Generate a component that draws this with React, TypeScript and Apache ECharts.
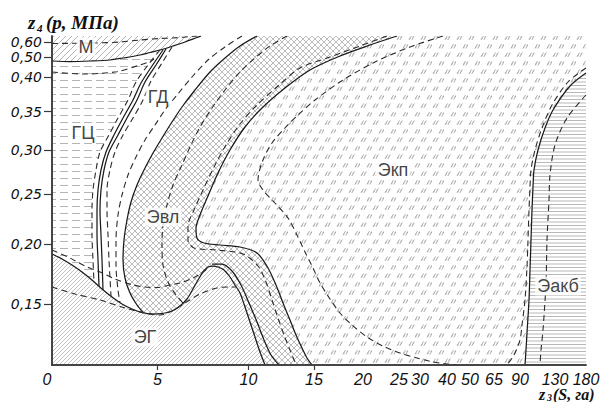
import React, { useEffect, useRef } from 'react';
import * as echarts from 'echarts';

// Nomogram axes: positions of the tick labels along each (non-uniform) scale
const X_MAX = 534;
const Y_MAX = 329;
const xTickLabels = ['0', '5', '10', '15', '20', '25', '30', '40', '50', '65', '90', '130', '180'];
const xTickPos = [0, 105.5, 196.5, 262, 311, 347, 368, 395, 418, 442, 468, 503, 534];
const xTickMarks = [105.5, 196.5, 262];
const yTickLabels = ['0,15', '0,20', '0,25', '0,30', '0,35', '0,40', '0,50', '0,60'];
const yTickPos = [60.7, 121, 171, 215, 253.3, 287.7, 307.7, 322.7];

// Boundary curves (scale positions)
const curveM = [[0, 304], [18, 303.5], [38, 304], [58, 305], [71, 307], [88, 310], [98, 312.5], [110, 315.5], [121, 319], [133, 323], [145, 327.5], [149, 329]];
const curveMDash = [[0, 321.5], [43, 322], [68, 323], [88, 325], [108, 326.5], [121, 327], [145, 329]];
const curveGCDash = [[0, 293], [31, 291], [65, 293.3], [88, 300], [98, 303.5], [102, 306]];
const curveL1 = [[108, 315], [96, 300], [84, 283], [76, 265], [66, 247], [57, 230], [48, 213], [44, 195], [41, 175], [40, 155], [40, 130], [41, 105], [42, 83]];
const curveL2 = [[111, 315], [100, 299], [89, 282], [81, 265], [71, 247], [62, 230], [54, 213], [49, 195], [46, 175], [45, 155], [45, 130], [46, 105], [47, 79]];
const curveL3 = [[114, 316], [104, 300], [93, 283], [85, 265], [75, 247], [66, 230], [57, 213], [52, 195], [49, 175], [48, 155], [49, 130], [50, 105], [51, 75]];
const curveL4 = [[120, 318], [110, 302], [99, 284], [91, 265], [81, 247], [71, 230], [63, 213], [58, 195], [55, 175], [55, 155], [56, 130], [57, 105], [59, 69]];
const curveGDDash = [[190, 329], [173, 318], [156, 305], [140, 288], [125, 270], [113, 255], [103, 240], [93, 225], [84, 208], [76, 190], [70, 170], [66, 150], [64, 125], [64, 100], [66, 75], [68, 62.5]];
const curveA = [[205, 329], [188, 319], [173, 307], [158, 293], [143, 275], [130, 258], [120, 243], [110, 227], [101, 212], [93, 197], [85, 180], [79, 163], [75, 145], [72, 125], [71, 105], [73, 87], [78, 72], [85, 60], [91, 52.5]];
const curveEG = [[0, 111], [10, 106], [20, 100], [30, 93], [40, 85], [50, 76], [60, 68], [70, 61], [80, 56], [90, 52.5], [100, 51], [110, 51.5], [120, 54], [128, 59], [135, 66], [141, 76], [146, 85], [151, 93], [156, 98], [161, 99], [166, 98], [172, 95], [178, 88], [183, 80], [188, 72], [193, 58], [198, 43], [203, 28], [208, 13], [213, 0]];
const curveEGDash1 = [[0, 115], [18, 107], [33, 99], [48, 93], [63, 86], [81, 80], [93, 78], [105, 77.5], [118, 80], [128, 82], [141, 87], [151, 93], [156, 97]];
const curveEGDash2 = [[0, 78], [23, 71], [48, 65], [73, 57], [93, 52], [108, 50], [120, 54], [133, 62], [148, 71], [165, 77], [178, 78], [184, 78]];
const curveB = [[235, 329], [218, 319], [203, 307], [188, 293], [173, 275], [160, 257], [148, 238], [138, 218], [130, 200], [121, 180], [115, 160], [111, 140], [110, 120], [111, 100], [116, 83], [124, 70], [131, 62]];
const curveC = [[335, 329], [308, 319], [278, 308], [248, 297], [226, 279], [204, 259], [188, 241], [174, 220], [162, 198], [151, 175], [142, 155], [136, 139], [136, 125], [142, 117], [165, 115], [191, 111], [206, 99], [214, 83], [220, 65], [226, 47], [232, 30], [238, 15], [243, 3], [245, 0]];
const curveD = [[345, 329], [318, 320], [288, 309], [258, 295], [233, 277], [210, 257], [193, 238], [178, 215], [166, 192], [156, 169], [148, 150], [144, 137], [145, 127], [152, 122], [168, 120], [188, 118], [205, 112], [216, 97], [224, 80], [231, 62], [238, 45], [244, 30], [250, 17], [255, 7], [260, 0]];
const curveX = [[160, 101], [170, 101], [180, 94], [189, 80], [197, 62], [205, 43], [212, 25], [219, 10], [227, 0]];
const curveF = [[391, 329], [358, 318], [323, 303], [291, 285], [263, 265], [246, 250], [233, 237], [220, 222], [211, 205], [206, 185], [211, 175], [223, 162], [236, 147], [245, 130], [253, 113], [261, 97], [268, 82], [278, 66], [288, 52], [300, 40], [315, 28], [331, 19], [348, 12], [365, 7], [381, 3], [405, 0]];
const curveG = [[534, 292], [518, 279], [501, 255], [493, 237], [486, 215], [482, 195], [481, 178], [480, 155], [479, 125], [478, 95], [477, 65], [475, 32], [474, 15], [473, 0]];
const curveGDashL = [[534, 297], [516, 283], [500, 260], [490, 237], [483, 215], [479, 195], [478, 178], [477, 155], [476, 125], [475, 98], [473, 65], [470, 40], [468, 25], [462, 10], [455, 0]];
const curveGDashR = [[534, 270], [515, 247], [503, 220], [498, 190], [497, 165], [495, 125], [494, 82], [491, 35], [489, 15], [488, 0]];

// Region labels
const regionNames = ['М', 'ГЦ', 'ГД', 'Эвл', 'Экп', 'ЭГ', 'Эакб'];
const regionLabelPos = [[34, 318], [31, 232], [106, 268], [111, 148], [341, 195], [93, 28], [506, 79]];

const FONT = '"Liberation Sans", Arial, sans-serif';
const WIDE = '"DejaVu Sans", "Liberation Sans", sans-serif';
const SERIF = '"Liberation Serif", "Times New Roman", serif';

function makePattern(w: number, h: number, draw: (ctx: CanvasRenderingContext2D) => void) {
  const c = document.createElement('canvas');
  c.width = w;
  c.height = h;
  const ctx = c.getContext('2d') as CanvasRenderingContext2D;
  draw(ctx);
  return { image: c, repeat: 'repeat', imageWidth: w, imageHeight: h };
}

function diag(ctx: CanvasRenderingContext2D, s: number, back: boolean) {
  ctx.beginPath();
  ctx.moveTo(-1, 1); ctx.lineTo(1, -1);
  ctx.moveTo(0, s); ctx.lineTo(s, 0);
  ctx.moveTo(s - 1, s + 1); ctx.lineTo(s + 1, s - 1);
  if (back) {
    ctx.moveTo(0, 0); ctx.lineTo(s, s);
    ctx.moveTo(-1, s - 1); ctx.lineTo(1, s + 1);
    ctx.moveTo(s - 1, -1); ctx.lineTo(s + 1, 1);
  }
  ctx.stroke();
}

export default function App() {
  const ref = useRef<HTMLDivElement>(null);
  useEffect(() => {
    document.body.style.margin = '0';
    if (!ref.current) return;
    const chart = echarts.init(ref.current, null, { renderer: 'svg' });

    const patM = makePattern(6, 6, (ctx) => { ctx.strokeStyle = '#a0a0a0'; ctx.lineWidth = 0.8; diag(ctx, 6, false); });
    const patEG = makePattern(4, 4, (ctx) => { ctx.strokeStyle = '#ababab'; ctx.lineWidth = 0.7; diag(ctx, 4, false); });
    const patCross = makePattern(6, 6, (ctx) => { ctx.strokeStyle = '#a6a6a6'; ctx.lineWidth = 0.75; diag(ctx, 6, true); });
    const patGC = makePattern(12, 7, (ctx) => {
      ctx.strokeStyle = '#b4b4b4'; ctx.lineWidth = 1;
      ctx.beginPath(); ctx.moveTo(0, 3.5); ctx.lineTo(8, 3.5); ctx.stroke();
    });
    const patAKB = makePattern(4, 7, (ctx) => {
      ctx.strokeStyle = '#b8b8b8'; ctx.lineWidth = 1;
      ctx.beginPath(); ctx.moveTo(0, 1.5); ctx.lineTo(4, 1.5); ctx.moveTo(0, 5); ctx.lineTo(4, 5); ctx.stroke();
    });
    const patKP = makePattern(12, 17, (ctx) => {
      ctx.strokeStyle = '#a4a4a4'; ctx.lineWidth = 0.9;
      const g = (x: number, y: number) => {
        ctx.moveTo(x, y + 4.5); ctx.lineTo(x + 2.5, y);
        ctx.moveTo(x + 2.8, y + 4.5); ctx.lineTo(x + 5.3, y);
        ctx.moveTo(x + 0.5, y + 3); ctx.lineTo(x + 1.6, y + 3);
        ctx.moveTo(x + 3.6, y + 1.5); ctx.lineTo(x + 4.7, y + 1.5);
      };
      ctx.beginPath(); g(1, 1.5); g(7, 10); ctx.stroke();
    });

    const region = (poly: number[][], fill: any) => ({
      type: 'custom',
      coordinateSystem: 'cartesian2d',
      silent: true,
      z: 1,
      data: poly,
      renderItem: (params: any, api: any) => {
        if (params.dataIndex !== 0) return null;
        return {
          type: 'polygon',
          shape: { points: poly.map((p) => api.coord(p)) },
          style: { fill, stroke: 'none' },
        };
      },
    });

    const line = (data: number[][], dashed: boolean) => ({
      type: 'line',
      data,
      symbol: 'none',
      showSymbol: false,
      smooth: 0.3,
      silent: true,
      z: 3,
      lineStyle: dashed
        ? { color: '#2a2a2a', width: 1.1, type: [6, 4] }
        : { color: '#1a1a1a', width: 1.25, type: 'solid' },
    });

    const polyM = [[0, Y_MAX], ...curveM];
    const polyGC = [...curveM.slice(0, 7), ...curveL1, ...curveEG.slice(0, 5).reverse()];
    const polyEG = [[0, 0], ...curveEG];
    const polyVL = [...curveA, ...curveEG.slice(10), ...curveD.slice().reverse()];
    const polyKP = [...curveD, ...curveG.slice().reverse(), [X_MAX, Y_MAX]];
    const polyAKB = [...curveG, [X_MAX, 0]];

    const labelOf = (pos: number[], labels: string[], v: number) => {
      let best = 0;
      for (let i = 0; i < pos.length; i++) if (Math.abs(pos[i] - v) < Math.abs(pos[best] - v)) best = i;
      return labels[best];
    };

    const frameLine = { show: true, lineStyle: { color: '#3a3a3a', width: 1.5 } };

    chart.setOption({
      animation: false,
      backgroundColor: '#fff',
      grid: { left: 52, right: 17, top: 36, bottom: 37, containLabel: false },
      xAxis: [
        {
          type: 'value', min: 0, max: X_MAX, position: 'bottom', z: 10,
          axisLine: frameLine,
          splitLine: { show: false },
          axisTick: { show: true, customValues: xTickMarks, length: 5, lineStyle: { color: '#3a3a3a', width: 1.2 } },
          axisLabel: {
            customValues: xTickPos, margin: 8, lineHeight: 12,
            fontSize: 16, fontStyle: 'italic', fontFamily: FONT, color: '#111',
            formatter: (v: number) => {
              const t = labelOf(xTickPos, xTickLabels, v);
              return t === '0' ? '{l|0}' : t;
            },
            rich: { l: { fontSize: 16, fontStyle: 'italic', fontFamily: FONT, color: '#111', lineHeight: 12, padding: [0, 10, 0, 0] } },
          },
        },
        {
          type: 'value', min: 0, max: X_MAX, position: 'top', z: 10,
          axisLine: frameLine, axisTick: { show: false }, axisLabel: { show: false }, splitLine: { show: false },
        },
      ],
      yAxis: [
        {
          type: 'value', min: 0, max: Y_MAX, position: 'left', z: 10,
          axisLine: frameLine,
          splitLine: { show: false },
          axisTick: { show: true, customValues: yTickPos, length: 8, lineStyle: { color: '#3a3a3a', width: 1.2 } },
          axisLabel: {
            customValues: yTickPos, margin: 10, lineHeight: 12,
            fontSize: 14, fontStyle: 'italic', fontFamily: WIDE, color: '#111',
            formatter: (v: number) => labelOf(yTickPos, yTickLabels, v),
          },
        },
        {
          type: 'value', min: 0, max: Y_MAX, position: 'right', z: 10,
          axisLine: frameLine, axisTick: { show: false }, axisLabel: { show: false }, splitLine: { show: false },
        },
      ],
      series: [
        region(polyM, patM),
        region(polyGC, patGC),
        region(polyEG, patEG),
        region(polyVL, patCross),
        region(polyKP, patKP),
        region(polyAKB, patAKB),
        line(curveM, false),
        line(curveMDash, true),
        line(curveGCDash, true),
        line(curveL1, true),
        line(curveL2, false),
        line(curveL3, false),
        line(curveL4, true),
        line(curveGDDash, true),
        line(curveA, false),
        line(curveEG, false),
        line(curveEGDash1, true),
        line(curveEGDash2, true),
        line(curveB, true),
        line(curveC, true),
        line(curveD, false),
        line(curveX, false),
        line(curveF, true),
        line(curveG, false),
        line(curveGDashL, true),
        line(curveGDashR, true),
        {
          type: 'scatter',
          z: 4,
          silent: true,
          symbolSize: 0,
          data: regionLabelPos.map((p, i) => ({ value: p, name: regionNames[i] })),
          label: {
            show: true, position: 'inside', formatter: '{b}',
            fontSize: 18, fontFamily: FONT, color: '#111',
            backgroundColor: '#fff', padding: [1, 2, 0, 2],
          },
        },
      ],
      graphic: [
        { type: 'text', x: 28, y: 22, style: { text: 'z', font: `italic bold 19px ${SERIF}`, fill: '#111', align: 'left', verticalAlign: 'middle' } },
        { type: 'text', x: 37, y: 28, style: { text: '4', font: `italic bold 11px ${SERIF}`, fill: '#111', align: 'left', verticalAlign: 'middle' } },
        { type: 'text', x: 46, y: 22, style: { text: '(p, МПа)', font: `italic bold 19px ${SERIF}`, fill: '#111', align: 'left', verticalAlign: 'middle' } },
        { type: 'text', x: 539, y: 394, style: { text: 'z', font: `italic bold 16px ${SERIF}`, fill: '#111', align: 'left', verticalAlign: 'middle' } },
        { type: 'text', x: 547, y: 397, style: { text: '3', font: `italic bold 10px ${SERIF}`, fill: '#111', align: 'left', verticalAlign: 'middle' } },
        { type: 'text', x: 553, y: 394, style: { text: '(S, га)', font: `italic bold 16px ${SERIF}`, fill: '#111', align: 'left', verticalAlign: 'middle' } },
      ],
    });
    return () => chart.dispose();
  }, []);
  return <div ref={ref} style={{ width: 603, height: 402 }} />;
}
